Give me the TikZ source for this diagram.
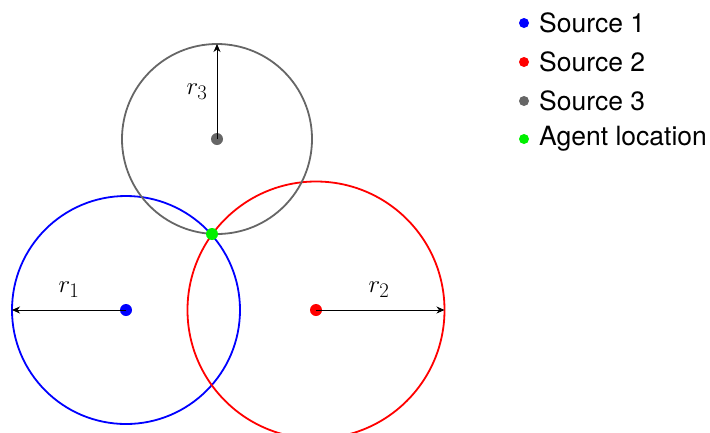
\documentclass[tikz,border=0pt]{standalone}
\usepackage{fontspec}
\newfontfamily\legendfont{TeX Gyre Heros}
\usetikzlibrary{arrows.meta}
\definecolor{srcgray}{RGB}{102,102,102}
\definecolor{agentgreen}{RGB}{0,240,0}
\begin{document}
\begin{tikzpicture}[x=1pt,y=-1pt,
  ring/.style={line width=1.8pt},
  srcdot/.style={circle,fill=#1,inner sep=0pt,minimum size=12pt},
  legdot/.style={circle,fill=#1,inner sep=0pt,minimum size=10pt},
  legtext/.style={anchor=west,inner sep=0pt,font=\legendfont\fontsize{26.5}{30}\selectfont},
  radius arrow/.style={line width=0.9pt,-{Stealth[length=8pt,width=7pt,inset=2.5pt]}},
  rlabel/.style={font=\fontsize{29}{32}\selectfont}]
\useasboundingbox (0,0) rectangle (710,432);
% circles
\draw[ring,blue] (126,310) circle[radius=114];
\draw[ring,red] (316,310) circle[radius=128.5];
\draw[ring,srcgray] (217,139) circle[radius=95];
% centers
\node[srcdot=blue] (s1) at (126,310) {};
\node[srcdot=red] (s2) at (316,310) {};
\node[srcdot=srcgray] (s3) at (217,139) {};
\node[srcdot=agentgreen] (ag) at (212,234) {};
% radius ends
\coordinate (e1) at (12,310);
\coordinate (e2) at (444.5,310);
\coordinate (e3) at (217,44);
\draw[radius arrow] (s1.center) -- (e1);
\draw[radius arrow] (s2.center) -- (e2);
\draw[radius arrow] (s3.center) -- (e3);
\node[rlabel] (l1) at (69,290) {$r_1$};
\node[rlabel] (l2) at (379,290) {$r_2$};
\node[rlabel] (l3) at (197,92) {$r_3$};
% legend
\node[legdot=blue] (d1) at (524,23) {};
\node[legdot=red] (d2) at (524,62) {};
\node[legdot=srcgray] (d3) at (524,101) {};
\node[legdot=agentgreen] (d4) at (524,139) {};
\node[legtext] (t1) at (539,23) {Source 1};
\node[legtext] (t2) at (539,62) {Source 2};
\node[legtext] (t3) at (539,101) {Source 3};
\node[legtext] (t4) at (539,139) {Agent location};
\end{tikzpicture}
\end{document}
